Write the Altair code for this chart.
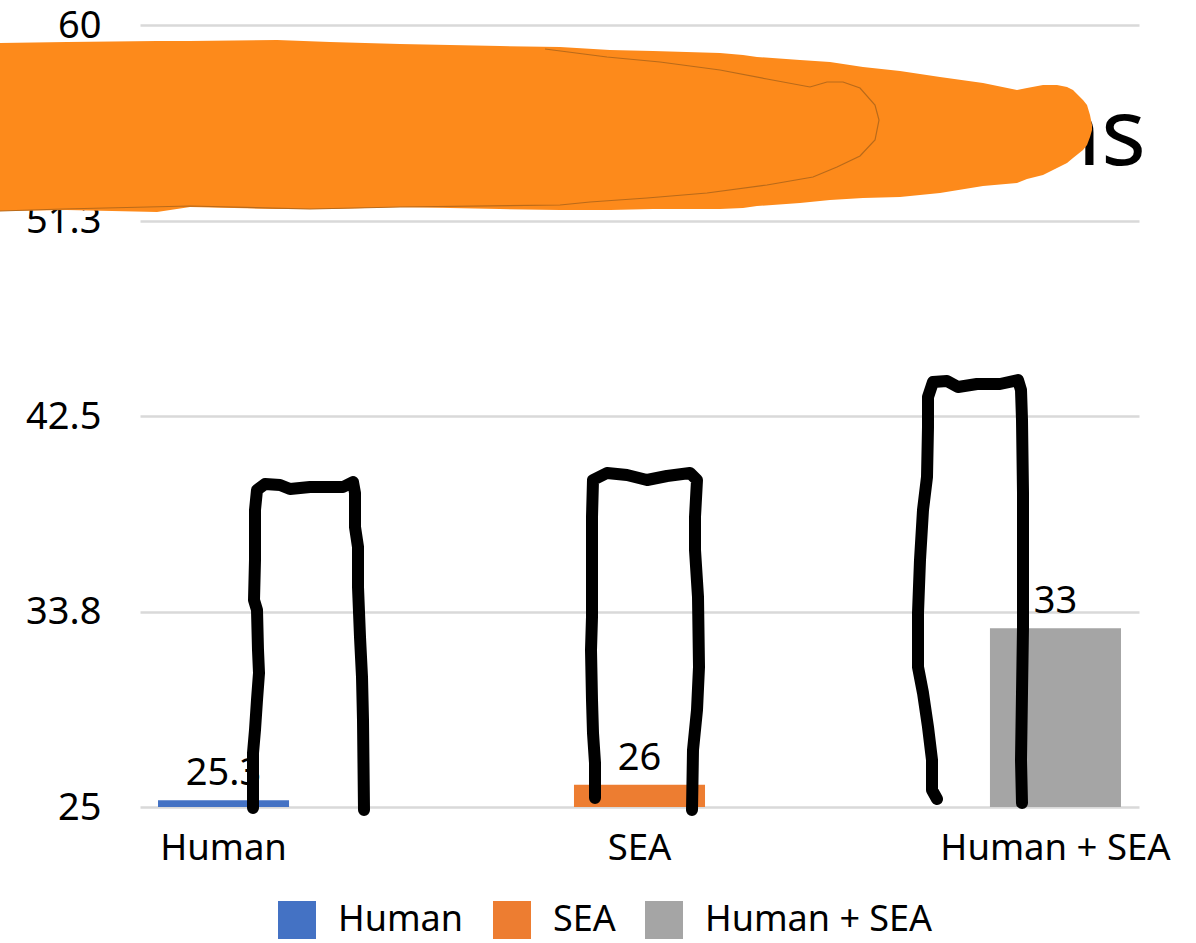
import altair as alt
import pandas as pd

FONT = "Noto Sans"

# Bar series
categories = ["Human", "SEA", "Human + SEA"]
values = [25.3, 26, 33]
colors = ["#4472C4", "#ED7D31", "#A5A5A5"]
y_ticks = [25, 33.75, 42.5, 51.25, 60]
y_floor = 25

# Freehand pen strokes over the bars, in canvas units
stroke_a_x = [253, 253, 255, 257, 259, 258, 257, 254, 255, 255, 257, 265, 280, 290, 310, 343, 353, 355, 355, 358, 358, 360, 362, 363, 364]
stroke_a_y = [808, 753, 730, 700, 673, 650, 610, 600, 560, 510, 490, 484, 485, 489, 487, 487, 482, 493, 527, 547, 587, 637, 677, 720, 810]
stroke_b_x = [595, 595, 593, 592, 591, 592, 592, 592, 593, 607, 627, 647, 667, 690, 697, 695, 695, 698, 699, 697, 693, 692]
stroke_b_y = [798, 763, 733, 700, 650, 617, 550, 517, 480, 473, 475, 480, 476, 473, 480, 517, 550, 597, 667, 710, 750, 810]
stroke_c_x = [937, 932, 932, 928, 923, 918, 918, 920, 923, 927, 928, 928, 933, 947, 958, 977, 1000, 1018, 1021, 1022, 1023, 1023, 1022, 1021, 1022]
stroke_c_y = [799, 790, 760, 727, 693, 667, 613, 560, 510, 477, 427, 397, 382, 381, 387, 384, 384, 380, 390, 420, 493, 627, 693, 760, 803]

# Highlighter smear across the heading, in canvas units
smear_x = [0, 67, 157, 190, 277, 330, 400, 500, 560, 610, 653, 720, 743, 757, 800, 830, 863, 900, 940, 983, 1017, 1027, 1043, 1057, 1067, 1073, 1083, 1087, 1090, 1092]
smear_top = [43, 42, 41, 41, 40, 42, 44, 46, 47, 50, 51, 53, 55, 57, 60, 62, 67, 71, 77, 83, 90, 88, 85, 85, 87, 90, 100, 105, 115, 125]
smear_bottom = [211, 210, 212, 207, 209, 209, 207, 209, 210, 210, 209, 209, 208, 206, 203, 200, 198, 197, 193, 186, 183, 179, 175, 168, 163, 158, 150, 145, 137, 130]

# Thin darker edge where two smear passes overlap
edge_x = [545, 607, 660, 720, 767, 810, 827, 843, 860, 875, 879, 875, 860, 837, 813, 767, 707, 647, 590, 560, 400, 310, 190, 63, 0]
edge_y = [49, 57, 62, 70, 79, 87, 82, 82, 88, 105, 120, 140, 156, 167, 177, 185, 193, 198, 202, 205, 207, 209, 206, 209, 211]

heading_tail = "ns"

bars_df = pd.DataFrame({"category": categories, "value": values})
smear_df = pd.DataFrame({"x": smear_x, "top": smear_top, "bottom": smear_bottom})
edge_df = pd.DataFrame({"x": edge_x, "y": edge_y})
pen_df = pd.concat([
    pd.DataFrame({"x": stroke_a_x, "y": stroke_a_y, "stroke": "a"}),
    pd.DataFrame({"x": stroke_b_x, "y": stroke_b_y, "stroke": "b"}),
    pd.DataFrame({"x": stroke_c_x, "y": stroke_c_y, "stroke": "c"}),
])
pen_df["order"] = range(len(pen_df))
heading_df = pd.DataFrame({"x": [1146], "y": [165], "text": [heading_tail]})

band = alt.Scale(type="band", domain=categories, paddingInner=0.685, paddingOuter=0.0433)
value_scale = alt.Scale(domain=[25, 60], nice=False, zero=False)
ink_x = alt.Scale(domain=[140, 1139], nice=False, zero=False)
ink_y = alt.Scale(domain=[807, 25], nice=False, zero=False)

bars = alt.Chart(bars_df).mark_bar().encode(
    x=alt.X("category:N", scale=band, sort=categories, title=None,
            axis=alt.Axis(labelAngle=0, labelFontSize=36.5, labelFont=FONT, labelColor="black",
                          labelPadding=23, ticks=False, domain=False, labelOverlap=False,
                          labelLimit=400, grid=False)),
    y=alt.Y("value:Q", scale=value_scale, title=None, stack=None,
            axis=alt.Axis(values=y_ticks, format=".1~f", labelFontSize=38, labelFont=FONT,
                          labelColor="black", labelPadding=39, labelOffset=1, ticks=False, domain=False,
                          gridColor="#D9D9D9", gridWidth=2.5, labelOverlap=False)),
    y2=alt.Y2(datum=y_floor),
    color=alt.Color("category:N", scale=alt.Scale(domain=categories, range=colors), sort=categories,
                    legend=alt.Legend(orient="none", legendX=138, legendY=876, direction="horizontal",
                                      columns=3, title=None, symbolType="square", symbolSize=1444,
                                      symbolStrokeWidth=0, labelFontSize=36, labelFont=FONT,
                                      labelColor="black", labelOffset=22, columnPadding=29,
                                      labelLimit=400, padding=0)),
)

labels = alt.Chart(bars_df).mark_text(fontSize=38, font=FONT, color="black", dy=-15, baseline="alphabetic").encode(
    x=alt.X("category:N", scale=band, sort=categories, axis=None),
    y=alt.Y("value:Q", scale=value_scale, axis=None),
    text=alt.Text("value:Q"),
)

heading = alt.Chart(heading_df).mark_text(fontSize=94, font=FONT, color="black", align="right",
                                          baseline="alphabetic").encode(
    x=alt.X("x:Q", scale=ink_x, axis=None),
    y=alt.Y("y:Q", scale=ink_y, axis=None),
    text="text:N",
)

pen = alt.Chart(pen_df).mark_line(color="black", strokeWidth=12, strokeCap="round", strokeJoin="round").encode(
    x=alt.X("x:Q", scale=ink_x, axis=None),
    y=alt.Y("y:Q", scale=ink_y, axis=None),
    detail="stroke:N",
    order="order:Q",
)

smear = alt.Chart(smear_df).mark_area(color="#FD8A1B", interpolate="linear", clip=False).encode(
    x=alt.X("x:Q", scale=ink_x, axis=None),
    y=alt.Y("top:Q", scale=ink_y, axis=None),
    y2="bottom:Q",
)

edge = alt.Chart(edge_df).mark_line(color="#B96A1A", strokeWidth=1.2).encode(
    x=alt.X("x:Q", scale=ink_x, axis=None, sort=None),
    y=alt.Y("y:Q", scale=ink_y, axis=None),
    order=alt.Order("idx:Q"),
).transform_window(idx="row_number()")

chart = alt.layer(bars, labels, heading, pen, smear, edge).resolve_scale(
    x="independent", y="independent", color="independent"
).properties(
    width=999, height=782,
    autosize="none",
    padding={"left": 140, "top": 25, "right": 57, "bottom": 136},
).configure_view(stroke=None)

chart.save("out.html", embed_options={"renderer": "svg", "actions": False})
